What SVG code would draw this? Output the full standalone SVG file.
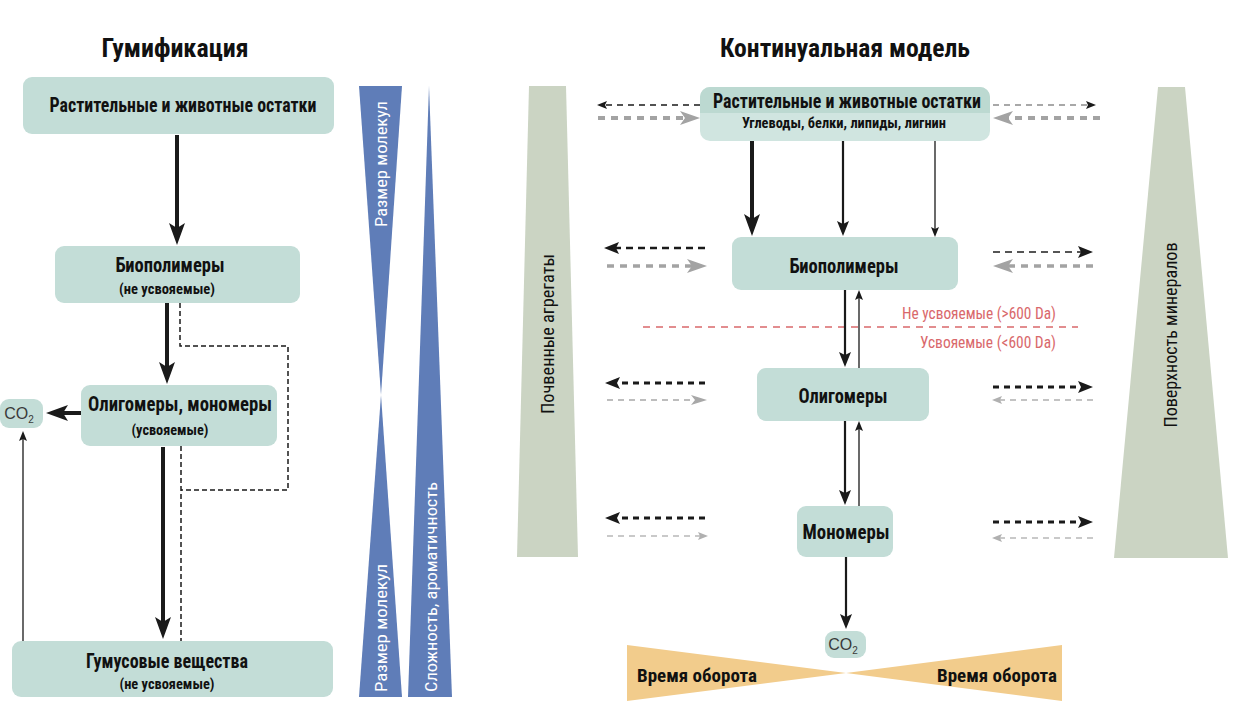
<svg xmlns="http://www.w3.org/2000/svg" width="1245" height="726" viewBox="0 0 1245 726">
<style>
  .t { font-family: "Liberation Sans Narrow", "Roboto Condensed", "Liberation Sans", Arial, sans-serif; font-weight: bold; fill: #111; text-anchor: middle; }
  .n { font-family: "Liberation Sans Narrow", "Roboto Condensed", "Liberation Sans", Arial, sans-serif; font-weight: normal; fill: #111; text-anchor: middle; }
  .co { font-family: "Liberation Sans", Arial, sans-serif; font-weight: normal; fill: #3a3a3a; font-size: 16px; text-anchor: middle; }
  .box { fill: #c3ddd7; }
  .blue { fill: #5f7db8; }
  .trap { fill: #cbd4c3; }
  .orange { fill: #f2cc8c; }
  .w { fill: #fff; }
  .red { fill: #d9686b; text-anchor: end; }
  .a-big { stroke: #1a1a1a; stroke-width: 4; fill: none; marker-end: url(#mk-big); }
  .a-med { stroke: #1a1a1a; stroke-width: 2.2; fill: none; marker-end: url(#mk-med); }
  .a-sm { stroke: #1a1a1a; stroke-width: 1.3; fill: none; marker-end: url(#mk-sm); }
  .dash-b { stroke: #1a1a1a; stroke-width: 1.5; fill: none; stroke-dasharray: 5 3; }
</style>
<defs>
  <marker id="mk-big" markerUnits="userSpaceOnUse" viewBox="0 0 22 16" markerWidth="22" markerHeight="16" refX="6" refY="8" orient="auto"><path d="M0,0 L22,8 L0,16 L5,8 z" fill="#1a1a1a"/></marker>
  <marker id="mk-med" markerUnits="userSpaceOnUse" viewBox="0 0 15 12" markerWidth="15" markerHeight="12" refX="4" refY="6" orient="auto"><path d="M0,0 L15,6 L0,12 L3,6 z" fill="#1a1a1a"/></marker>
  <marker id="mk-sm" markerUnits="userSpaceOnUse" viewBox="0 0 10 8" markerWidth="10" markerHeight="8" refX="3" refY="4" orient="auto"><path d="M0,0 L10,4 L0,8 L2,4 z" fill="#1a1a1a"/></marker>
  <marker id="mk-gbig" markerUnits="userSpaceOnUse" viewBox="0 0 20 14" markerWidth="20" markerHeight="14" refX="6" refY="7" orient="auto"><path d="M0,0 L20,7 L0,14 L5,7 z" fill="#a3a3a3"/></marker>
  <marker id="mk-gmed" markerUnits="userSpaceOnUse" viewBox="0 0 16 10" markerWidth="16" markerHeight="10" refX="5" refY="5" orient="auto"><path d="M0,0 L16,5 L0,10 L4,5 z" fill="#a8a8a8"/></marker>
  <marker id="mk-gsm" markerUnits="userSpaceOnUse" viewBox="0 0 10 8" markerWidth="10" markerHeight="8" refX="3" refY="4" orient="auto"><path d="M0,0 L10,4 L0,8 L2,4 z" fill="#b0b0b0"/></marker>
</defs>
<rect width="1245" height="726" fill="#ffffff"/>

<!-- Titles -->
<text class="t" x="175" y="57" font-size="26" textLength="147" lengthAdjust="spacingAndGlyphs">Гумификация</text>
<text class="t" x="845" y="57" font-size="26" textLength="250" lengthAdjust="spacingAndGlyphs">Континуальная модель</text>

<!-- Middle blue shapes -->
<g id="size-hourglass">
  <polygon class="blue" points="359,86 402,86 381,395"/>
  <polygon class="blue" points="381,395 402,697 359,697"/>
  <text class="n w" font-size="17" transform="translate(387,164) rotate(-90)" textLength="126" lengthAdjust="spacingAndGlyphs">Размер молекул</text>
  <text class="n w" font-size="17" transform="translate(387,628) rotate(-90)" textLength="128" lengthAdjust="spacingAndGlyphs">Размер молекул</text>
</g>
<g id="complexity-triangle">
  <polygon class="blue" points="429,86 452,697 408,697"/>
  <text class="n w" font-size="17" transform="translate(437,587) rotate(-90)" textLength="210" lengthAdjust="spacingAndGlyphs">Сложность, ароматичность</text>
</g>

<!-- Side trapezoids -->
<g id="soil-aggregates">
  <polygon class="trap" points="529,86 566,86 578,557 517,557"/>
  <text class="n" font-size="18" transform="translate(554,334) rotate(-90)" textLength="160" lengthAdjust="spacingAndGlyphs">Почвенные агрегаты</text>
</g>
<g id="mineral-surface">
  <polygon class="trap" points="1158,87 1185,87 1228,558 1114,558"/>
  <text class="n" font-size="18" transform="translate(1177,335) rotate(-90)" textLength="185" lengthAdjust="spacingAndGlyphs">Поверхность минералов</text>
</g>

<!-- Turnover bowtie -->
<g id="turnover">
  <polygon class="orange" points="627,645 846,673 627,701"/>
  <polygon class="orange" points="846,673 1062,645 1062,701"/>
  <text class="t" x="697" y="682" font-size="18" textLength="120" lengthAdjust="spacingAndGlyphs">Время оборота</text>
  <text class="t" x="997" y="682" font-size="18" textLength="120" lengthAdjust="spacingAndGlyphs">Время оборота</text>
</g>

<!-- Left nodes -->
<g id="l-residues">
  <rect class="box" x="23" y="77" width="311" height="57" rx="9"/>
  <text class="t" x="183" y="112" font-size="20" textLength="267" lengthAdjust="spacingAndGlyphs">Растительные и животные остатки</text>
</g>
<g id="l-biopolymers">
  <rect class="box" x="55" y="246" width="245" height="57" rx="9"/>
  <text class="t" x="170" y="272" font-size="20" textLength="109" lengthAdjust="spacingAndGlyphs">Биополимеры</text>
  <text class="t" x="167" y="294" font-size="15" textLength="96" lengthAdjust="spacingAndGlyphs">(не усвояемые)</text>
</g>
<g id="l-oligomers">
  <rect class="box" x="81" y="385" width="196" height="61" rx="9"/>
  <text class="t" x="180" y="411" font-size="20" textLength="184" lengthAdjust="spacingAndGlyphs">Олигомеры, мономеры</text>
  <text class="t" x="170" y="435" font-size="15" textLength="77" lengthAdjust="spacingAndGlyphs">(усвояемые)</text>
</g>
<g id="l-co2">
  <rect class="box" x="0" y="399" width="43" height="29" rx="9"/>
  <text class="co" x="19" y="419">CO<tspan font-size="10" dy="4">2</tspan></text>
</g>
<g id="l-humus">
  <rect class="box" x="12" y="641" width="321" height="56" rx="9"/>
  <text class="t" x="167" y="668" font-size="20" textLength="162" lengthAdjust="spacingAndGlyphs">Гумусовые вещества</text>
  <text class="t" x="167" y="689" font-size="15" textLength="95" lengthAdjust="spacingAndGlyphs">(не усвояемые)</text>
</g>

<!-- Right nodes -->
<g id="r-residues">
  <rect x="700" y="87" width="290" height="54" rx="10" fill="#d0e5e0"/>
  <path d="M700,113 V97 a10,10 0 0 1 10,-10 H980 a10,10 0 0 1 10,10 V113 z" fill="#bcd9d1"/>
  <text class="t" x="847" y="108" font-size="20" textLength="268" lengthAdjust="spacingAndGlyphs">Растительные и животные остатки</text>
  <text class="t" x="844" y="128" font-size="15.5" textLength="204" lengthAdjust="spacingAndGlyphs">Углеводы, белки, липиды, лигнин</text>
</g>
<g id="r-biopolymers">
  <rect class="box" x="732" y="237" width="226" height="53" rx="9"/>
  <text class="t" x="844" y="273" font-size="20" textLength="109" lengthAdjust="spacingAndGlyphs">Биополимеры</text>
</g>
<g id="r-oligomers">
  <rect class="box" x="757" y="368" width="172" height="53" rx="9"/>
  <text class="t" x="843" y="403" font-size="20" textLength="89" lengthAdjust="spacingAndGlyphs">Олигомеры</text>
</g>
<g id="r-monomers">
  <rect class="box" x="797" y="506" width="96" height="51" rx="9"/>
  <text class="t" x="846" y="539" font-size="21" textLength="87" lengthAdjust="spacingAndGlyphs">Мономеры</text>
</g>
<g id="r-co2">
  <rect class="box" x="825" y="631" width="41" height="27" rx="9"/>
  <text class="co" x="843" y="650">CO<tspan font-size="10" dy="4">2</tspan></text>
</g>

<!-- Digestibility threshold -->
<g id="threshold">
  <line x1="643" y1="327" x2="1078" y2="327" stroke="#d9686b" stroke-width="1.6" stroke-dasharray="7 6"/>
  <text class="n red" x="1056" y="319" font-size="16.5" textLength="154" lengthAdjust="spacingAndGlyphs">Не усвояемые (&gt;600 Da)</text>
  <text class="n red" x="1056" y="348" font-size="16.5" textLength="136" lengthAdjust="spacingAndGlyphs">Усвояемые (&lt;600 Da)</text>
</g>

<!-- Connectors -->
<g id="connectors">
  <!-- left column -->
  <line class="a-big" x1="177" y1="135" x2="177" y2="229"/>
  <line class="a-big" x1="167" y1="303" x2="167" y2="368"/>
  <line class="a-big" x1="163" y1="447" x2="163" y2="623"/>
  <line class="a-big" x1="81" y1="413" x2="62" y2="413"/>
  <line class="a-sm" x1="23" y1="641" x2="23" y2="438"/>
  <polyline class="dash-b" points="180,303 180,346 288,346 288,490 181,490"/>
  <line class="dash-b" x1="181" y1="446" x2="181" y2="641"/>

  <!-- right column verticals -->
  <line class="a-big" x1="752" y1="141" x2="752" y2="220"/>
  <line class="a-med" x1="843" y1="141" x2="843" y2="225"/>
  <line class="a-sm" x1="935" y1="141" x2="935" y2="230"/>
  <line class="a-med" x1="845" y1="290" x2="845" y2="356" stroke-width="2.5"/>
  <line class="a-sm" x1="859" y1="368" x2="859" y2="297"/>
  <line class="a-med" x1="845" y1="421" x2="845" y2="494" stroke-width="2.5"/>
  <line class="a-sm" x1="859" y1="506" x2="859" y2="428"/>
  <line class="a-med" x1="846" y1="557" x2="846" y2="618" stroke-width="2"/>

  <!-- row: residues -->
  <line x1="700" y1="105" x2="604" y2="105" stroke="#1a1a1a" stroke-width="1.5" stroke-dasharray="6 5" marker-end="url(#mk-sm)"/>
  <line x1="598" y1="118" x2="686" y2="118" stroke="#a3a3a3" stroke-width="4" stroke-dasharray="7 6" marker-end="url(#mk-gbig)"/>
  <line x1="993" y1="105" x2="1089" y2="105" stroke="#8c8c8c" stroke-width="1.5" stroke-dasharray="6 5" marker-end="url(#mk-sm)"/>
  <line x1="1100" y1="118" x2="1007" y2="118" stroke="#a3a3a3" stroke-width="4" stroke-dasharray="7 6" marker-end="url(#mk-gbig)"/>

  <!-- row: biopolymers -->
  <line x1="705" y1="248" x2="615" y2="248" stroke="#1a1a1a" stroke-width="2.5" stroke-dasharray="7 5" marker-end="url(#mk-med)"/>
  <line x1="607" y1="266" x2="693" y2="266" stroke="#a3a3a3" stroke-width="3.5" stroke-dasharray="7 6" marker-end="url(#mk-gbig)"/>
  <line x1="993" y1="252" x2="1082" y2="252" stroke="#555" stroke-width="1.8" stroke-dasharray="7 5" marker-end="url(#mk-med)"/>
  <line x1="1093" y1="266" x2="1007" y2="266" stroke="#a3a3a3" stroke-width="3.5" stroke-dasharray="7 6" marker-end="url(#mk-gbig)"/>

  <!-- row: oligomers -->
  <line x1="705" y1="383" x2="616" y2="383" stroke="#1a1a1a" stroke-width="3" stroke-dasharray="6 5" marker-end="url(#mk-med)"/>
  <line x1="607" y1="400" x2="696" y2="400" stroke="#a8a8a8" stroke-width="1.5" stroke-dasharray="6 5" marker-end="url(#mk-gmed)"/>
  <line x1="993" y1="387" x2="1082" y2="387" stroke="#1a1a1a" stroke-width="3" stroke-dasharray="6 5" marker-end="url(#mk-med)"/>
  <line x1="1093" y1="400" x2="999" y2="400" stroke="#b0b0b0" stroke-width="1.5" stroke-dasharray="6 5" marker-end="url(#mk-gsm)"/>

  <!-- row: monomers -->
  <line x1="705" y1="518" x2="616" y2="518" stroke="#1a1a1a" stroke-width="3" stroke-dasharray="6 5" marker-end="url(#mk-med)"/>
  <line x1="607" y1="536" x2="701" y2="536" stroke="#b8b8b8" stroke-width="1.5" stroke-dasharray="6 5" marker-end="url(#mk-gsm)"/>
  <line x1="993" y1="522" x2="1082" y2="522" stroke="#1a1a1a" stroke-width="3" stroke-dasharray="6 5" marker-end="url(#mk-med)"/>
  <line x1="1093" y1="538" x2="999" y2="538" stroke="#b8b8b8" stroke-width="1.5" stroke-dasharray="6 5" marker-end="url(#mk-gsm)"/>
</g>
</svg>
